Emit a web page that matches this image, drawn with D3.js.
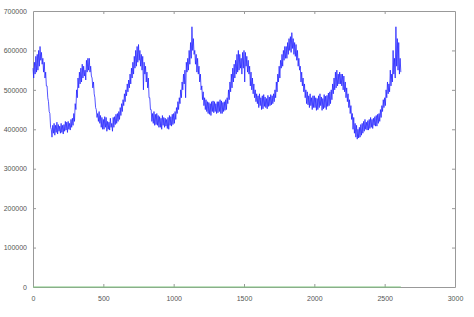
<!DOCTYPE html>
<html>
<head>
<meta charset="utf-8">
<script src="https://d3js.org/d3.v7.min.js"></script>
<style>
  body { margin: 0; background: #fff; }
  svg { display: block; font-family: 'Liberation Sans', Arial, sans-serif; }
  .tick text { fill: #555; font-size: 7px; }
  .domain, .tick line { stroke: #999; }
</style>
</head>
<body>
<svg id="chart" width="474" height="317"></svg>
<script>
// values in thousands, one every 5 steps starting at step 0
const step = 5;
const series = [
  555,530,570,540,585,545,590,550,600,560,610,575,595,565,580,545,570,530,545,510,
  510,480,470,445,440,405,400,380,410,390,415,385,410,392,418,388,412,395,408,390,
  415,392,410,388,412,395,420,398,418,392,420,400,415,398,425,405,428,410,440,420,
  465,450,500,480,530,505,545,515,555,520,565,530,560,535,550,525,575,545,580,550,
  580,545,560,535,530,505,520,490,480,455,450,430,440,420,445,415,435,405,430,400,
  425,400,432,405,430,395,420,400,418,398,428,405,415,395,430,405,432,412,438,415,
  440,420,445,425,455,435,465,445,475,460,490,470,500,485,515,495,525,505,540,515,
  555,530,570,540,585,555,600,560,610,570,615,575,600,560,590,550,585,500,570,540,
  560,520,545,505,530,480,480,450,450,420,440,415,445,410,438,412,440,410,435,405,
  432,405,428,400,435,410,430,405,428,408,425,402,430,400,435,410,432,408,438,412,
  440,415,445,425,455,440,470,450,480,465,500,480,520,500,540,515,550,480,570,545,
  580,550,600,565,620,580,660,600,630,590,600,565,590,545,580,540,560,520,540,500,
  510,475,495,460,480,450,475,445,470,440,468,438,465,435,470,445,472,442,470,445,
  465,440,470,442,470,445,475,440,472,440,468,445,470,448,475,450,480,465,500,475,
  520,495,540,505,555,520,565,530,575,540,590,545,600,550,590,555,580,540,595,555,
  600,520,595,560,585,545,575,540,560,510,545,500,530,490,515,480,500,470,490,465,
  485,455,490,460,480,450,485,452,488,458,482,455,478,452,486,458,482,460,488,462,
  485,465,490,470,500,480,520,495,540,520,560,530,575,555,590,560,600,575,610,580,
  610,580,620,590,630,600,635,595,645,605,630,590,620,585,615,575,600,560,580,550,
  560,520,545,510,530,495,515,480,500,465,495,462,485,455,490,460,480,450,485,455,
  485,455,480,448,478,450,485,455,490,460,482,448,478,452,488,455,484,450,486,458,
  492,460,495,465,500,475,515,490,530,500,545,505,550,510,540,515,545,515,540,510,
  540,500,535,495,520,480,505,470,490,455,475,440,460,425,440,400,430,390,415,380,
  410,375,400,378,405,380,412,385,415,390,420,395,425,400,418,398,422,398,425,402,
  430,405,425,402,428,410,432,408,435,408,438,415,440,420,450,430,460,445,475,455,
  480,460,500,480,520,490,515,495,550,510,540,520,600,540,580,530,660,560,630,550,
  620,540,580,545
];
const baseX = [0, 2615];
const baseY = [0, 0];
const xTicks = [0, 500, 1000, 1500, 2000, 2500, 3000];
const yTicks = [0, 100000, 200000, 300000, 400000, 500000, 600000, 700000];

const svg = d3.select('#chart');
const m = { left: 33, right: 19, top: 11, bottom: 30 };
const w = 474 - m.left - m.right;
const h = 317 - m.top - m.bottom;
const g = svg.append('g').attr('transform', `translate(${m.left},${m.top})`);

const x = d3.scaleLinear().domain([0, 3000]).range([0, w]);
const y = d3.scaleLinear().domain([0, 700000]).range([h, 0]);
const fmt = d3.format('d');

g.append('g').attr('transform', `translate(0,${h})`)
  .call(d3.axisBottom(x).tickValues(xTicks).tickSizeInner(-3).tickSizeOuter(0).tickPadding(9).tickFormat(fmt));
g.append('g')
  .call(d3.axisTop(x).tickValues(xTicks).tickSizeInner(-3).tickSizeOuter(0).tickFormat(''));
g.append('g')
  .call(d3.axisLeft(y).tickValues(yTicks).tickSizeInner(-3).tickSizeOuter(0).tickPadding(6).tickFormat(fmt));
g.append('g').attr('transform', `translate(${w},0)`)
  .call(d3.axisRight(y).tickValues(yTicks).tickSizeInner(-3).tickSizeOuter(0).tickFormat(''));

// no tick marks at the corners
g.selectAll('.tick').filter(d => d === 0 || d === 3000 || d === 700000).select('line').remove();

g.append('path')
  .datum(baseX.map((d, i) => [d, baseY[i]]))
  .attr('fill', 'none')
  .attr('stroke', '#7cc47c')
  .attr('stroke-width', 1)
  .attr('d', d3.line().x(d => x(d[0])).y(d => y(d[1])));

g.append('path')
  .datum(series)
  .attr('fill', 'none')
  .attr('stroke', '#1f1fff')
  .attr('stroke-width', 0.9)
  .attr('stroke-opacity', 0.85)
  .attr('d', d3.line().x((d, i) => x(i * step)).y(d => y(d * 1000)));
</script>
</body>
</html>
